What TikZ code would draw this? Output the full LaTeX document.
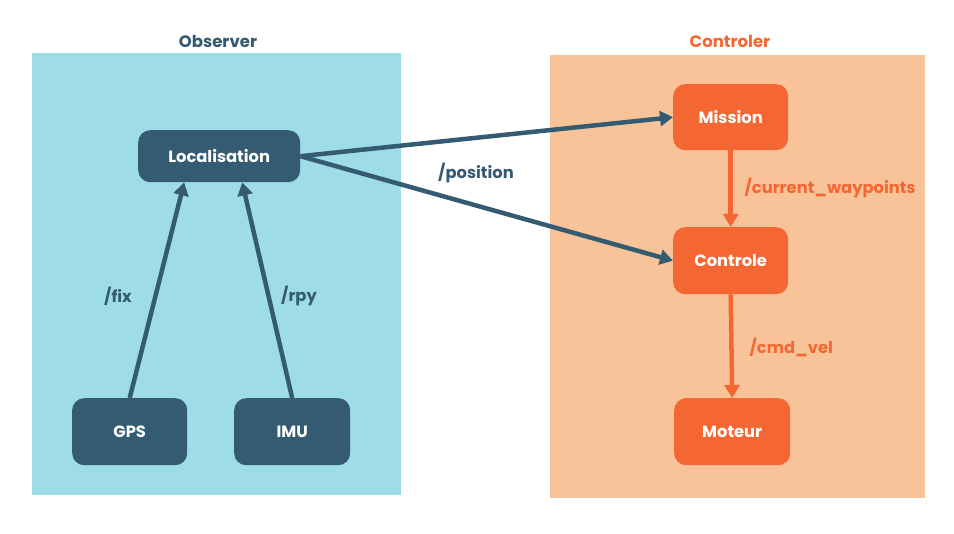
\documentclass[tikz,border=0pt]{standalone}
\usepackage{fontspec}
\setmainfont{Poppins}
\usetikzlibrary{arrows.meta}
\definecolor{obsbg}{HTML}{9EDDE7}
\definecolor{ctlbg}{HTML}{F9C39A}
\definecolor{dteal}{HTML}{345B71}
\definecolor{orng}{HTML}{F56732}
\tikzset{
  px/.style={x=1pt,y=-1pt},
  nodebox/.style={rounded corners=12pt, text=white, font=\fontsize{16.3}{19}\selectfont\bfseries, inner sep=0pt, anchor=north west},
  obsnode/.style={nodebox, fill=dteal},
  ctlnode/.style={nodebox, fill=orng},
  obsarrow/.style={draw=dteal, line width=4.5pt, -{Triangle[length=13pt,width=15pt]}},
  ctlarrow/.style={draw=orng, line width=4.5pt, -{Triangle[length=13pt,width=15pt]}},
  lbl/.style={font=\fontsize{16.3}{19}\selectfont\bfseries},
  title/.style={font=\fontsize{16.5}{19}\selectfont\bfseries}
}
\begin{document}
\begin{tikzpicture}[px]
\useasboundingbox (0,0) rectangle (954,534);
\fill[white] (0,0) rectangle (954,534);
\fill[obsbg] (32,53) rectangle (401,495);
\fill[ctlbg] (550,55) rectangle (925,498);
\node[title, text=dteal] (tobs) at (218,41) {Observer};
\node[title, text=orng] (tctl) at (730,41) {Controler};

\node[obsnode, minimum width=162pt, minimum height=52pt] (loc) at (138,130) {Localisation};
\node[obsnode, minimum width=115pt, minimum height=67pt] (gps) at (72,398) {GPS};
\node[obsnode, minimum width=116pt, minimum height=67pt] (imu) at (234,398) {IMU};
\node[ctlnode, minimum width=115pt, minimum height=66pt] (mis) at (673,84) {Mission};
\node[ctlnode, minimum width=115pt, minimum height=67pt] (con) at (673,227) {Controle};
\node[ctlnode, minimum width=116pt, minimum height=67pt] (mot) at (674,398) {Moteur};

\coordinate (lgps) at ([xshift=-35pt]loc.south);
\coordinate (limu) at ([xshift=23pt]loc.south);

\draw[obsarrow] (gps.north) -- (lgps);
\draw[obsarrow] (imu.north) -- (limu);
\node[lbl, text=dteal] (lfix) at (118,296) {/fix};
\node[lbl, text=dteal] (lrpy) at (299,296) {/rpy};
\draw[obsarrow] (loc.east) -- (mis.west);
\draw[obsarrow] (loc.east) -- (con.west);
\node[lbl, text=dteal] (lpos) at (476,173) {/position};
\draw[ctlarrow] (mis.south) -- (con.north);
\node[lbl, text=orng, anchor=west] (lcw) at (741,188) {/current\_waypoints};
\draw[ctlarrow] (con.south) -- (mot.north);
\node[lbl, text=orng, anchor=west] (lcv) at (746,347) {/cmd\_vel};
\end{tikzpicture}
\end{document}
